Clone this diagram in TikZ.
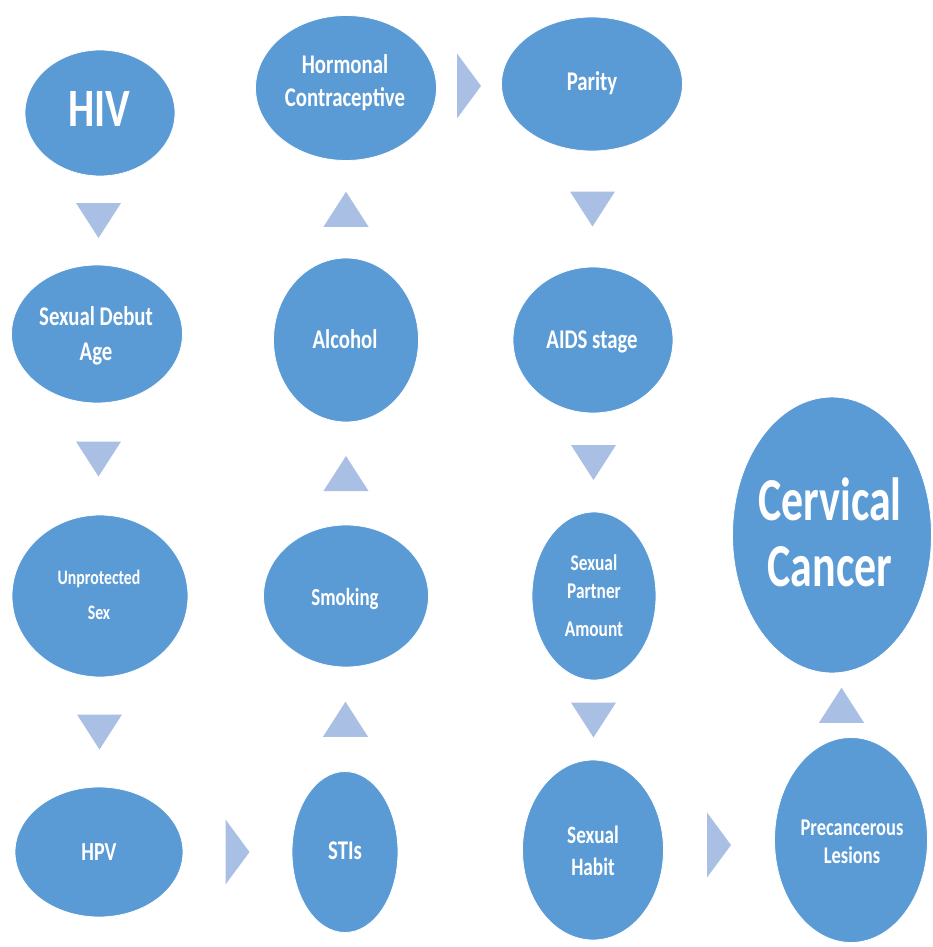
\documentclass[tikz,border=0pt]{standalone}
\usepackage{fontspec}
\newfontfamily\labf{Carlito}[FakeStretch=0.77]
\newfontfamily\bigf{Carlito}[FakeStretch=0.72]
\usetikzlibrary{shapes.geometric,calc}
\definecolor{nodeblue}{HTML}{5B9BD5}
\definecolor{triblue}{HTML}{A9BFE3}
\newcommand\fs[2]{\fontsize{#1}{#2}\selectfont}
\newcommand\downtri[3]{\coordinate (#3) at ($(#1.south)!0.5!(#2.north)$);
  \fill[tri] ([shift={(-22.5,-17.5)}]#3) -- ([shift={(22.5,-17.5)}]#3) -- ([shift={(0,17.5)}]#3) -- cycle;}
\newcommand\uptri[3]{\coordinate (#3) at ($(#1.north)!0.5!(#2.south)$);
  \fill[tri] ([shift={(-22.5,17.5)}]#3) -- ([shift={(22.5,17.5)}]#3) -- ([shift={(0,-17.5)}]#3) -- cycle;}
\newcommand\righttri[3]{\coordinate (#3) at ($(#1.east)!0.5!(#2.west)$);
  \fill[tri] ([shift={(-12,-32.5)}]#3) -- ([shift={(12,0)}]#3) -- ([shift={(-12,32.5)}]#3) -- cycle;}
\begin{document}
\begin{tikzpicture}[x=1pt,y=-1pt,
  ell/.style={ellipse,fill=nodeblue,draw=white,line width=0.8pt,inner sep=0pt},
  lbl/.style={text=white,align=center,anchor=base,inner sep=0pt},
  tri/.style={fill=triblue}]
\fill[white] (0,0) rectangle (932,947);
\useasboundingbox (0,0) rectangle (932,947);
% ellipses
\node[ell,minimum width=150pt,minimum height=126pt] (hiv) at (100,113) {};
\node[ell,minimum width=181pt,minimum height=145pt] (hc) at (346,88) {};
\node[ell,minimum width=181pt,minimum height=134pt] (par) at (592,84) {};
\node[ell,minimum width=171pt,minimum height=138pt] (sda) at (97,334) {};
\node[ell,minimum width=145pt,minimum height=164pt] (alc) at (346,340) {};
\node[ell,minimum width=160pt,minimum height=146pt] (aids) at (593,340) {};
\node[ell,minimum width=176pt,minimum height=162pt] (ups) at (100,596) {};
\node[ell,minimum width=165pt,minimum height=142pt] (smk) at (346,596) {};
\node[ell,minimum width=124pt,minimum height=168pt] (spa) at (594,596) {};
\node[ell,minimum width=199pt,minimum height=276pt] (cc) at (832,535) {};
\node[ell,minimum width=168pt,minimum height=130pt] (hpv) at (99,852) {};
\node[ell,minimum width=106pt,minimum height=161pt] (sti) at (345,852) {};
\node[ell,minimum width=141pt,minimum height=180pt] (sh) at (593,850) {};
\node[ell,minimum width=153pt,minimum height=205pt] (pl) at (851,840) {};
% labels (anchor base = baseline of the last line)
\node[lbl,font=\labf\bfseries\fs{54}{60}] (hivt) at (99,127) {HIV};
\node[lbl,font=\labf\bfseries\fs{27}{33}] (hct) at (345,107) {Hormonal\\Contraceptive};
\node[lbl,font=\labf\bfseries\fs{27}{33}] (part) at (592,91) {Parity};
\node[lbl,font=\labf\bfseries\fs{27}{35}] (sdat) at (96,360) {Sexual Debut\\Age};
\node[lbl,font=\labf\bfseries\fs{27}{33}] (alct) at (345,348) {Alcohol};
\node[lbl,font=\labf\bfseries\fs{27}{33}] (aidst) at (592,348) {AIDS stage};
\node[lbl,font=\labf\bfseries\fs{20.5}{35}] (upst) at (99,619) {Unprotected\\Sex};
\node[lbl,font=\labf\bfseries\fs{24.5}{30}] (smkt) at (345,605) {Smoking};
\node[lbl,font=\labf\bfseries\fs{22.5}{28}] (spat) at (594,636) {Sexual\\Partner\\[10pt]Amount};
\node[lbl,font=\labf\bfseries\fs{26}{30}] (hpvt) at (99,860) {HPV};
\node[lbl,font=\labf\bfseries\fs{27}{30}] (stit) at (345,859) {STIs};
\node[lbl,font=\labf\bfseries\fs{25}{32}] (sht) at (593,875) {Sexual\\Habit};
\node[lbl,font=\labf\bfseries\fs{24}{28}] (plt) at (852,863) {Precancerous\\Lesions};
\node[lbl,font=\bigf\bfseries\fs{61}{66}] (cct) at (830,586) {Cervical\\Cancer};
% arrows
\downtri{hiv}{sda}{a1}
\downtri{sda}{ups}{a2}
\downtri{ups}{hpv}{a3}
\righttri{hpv}{sti}{a4}
\uptri{sti}{smk}{a5}
\uptri{smk}{alc}{a6}
\uptri{alc}{hc}{a7}
\righttri{hc}{par}{a8}
\downtri{par}{aids}{a9}
\downtri{aids}{spa}{a10}
\downtri{spa}{sh}{a11}
\righttri{sh}{pl}{a12}
\uptri{pl}{cc}{a13}
\end{tikzpicture}
\end{document}
